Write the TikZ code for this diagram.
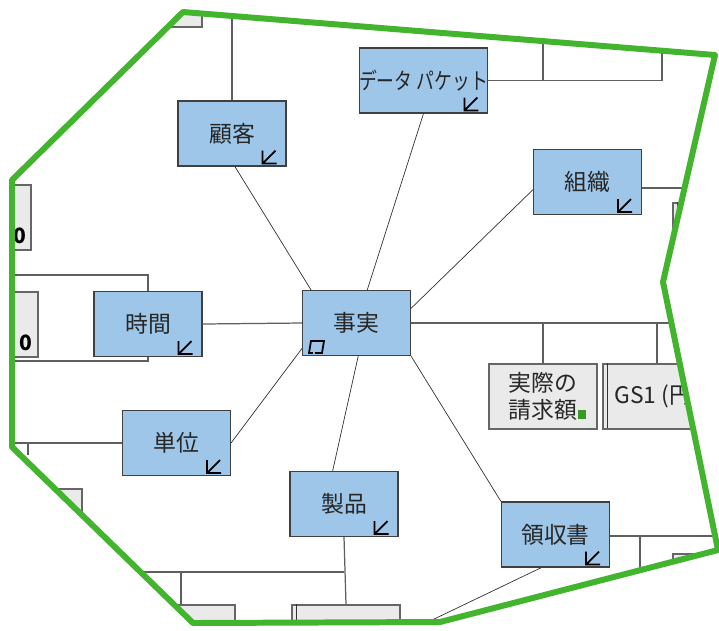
\documentclass[tikz,border=0pt]{standalone}
\usepackage{fontspec}
\setmainfont{Noto Sans CJK JP}
\newfontfamily\jpnarrow[FakeStretch=0.78]{Noto Sans CJK JP}
\definecolor{boxblue}{RGB}{157,198,232}
\definecolor{boxgrey}{RGB}{234,234,234}
\definecolor{hullgreen}{RGB}{66,180,46}
\definecolor{edgegrey}{RGB}{95,95,95}
\begin{document}
\begin{tikzpicture}[x=0.02cm, y=-0.02cm,
        entity/.style={rectangle, draw=black!75, fill=boxblue, line width=0.6pt, minimum width=2.16cm, minimum height=1.3cm, inner sep=0pt, font=\fontsize{13}{15}\selectfont, text=black!85},
        attr/.style={entity, fill=boxgrey, draw=black!60, align=center},
        spoke/.style={draw=black!80, line width=0.4pt},
        branch/.style={draw=edgegrey, line width=0.7pt},
        linkicon/.style={draw=black, line width=1pt},
        hull/.style={draw=hullgreen, line width=3.4pt, line join=round}
    ]

        \useasboundingbox (0,0) rectangle (719,630);
        \fill[white] (0,0) rectangle (719,630);

        \begin{scope}
        \clip (183,12) -- (715,55) -- (663,282) -- (718,550) -- (440,622) -- (193,623) -- (12,447) -- (12,180) -- cycle;

        % Dimensions round the fact table
        \node[entity] (cust) at (232,133.5) {顧客};
        \node[entity, font=\jpnarrow\fontsize{13}{15}\selectfont] (packet) at (423.5,80.5) {データ パケット};
        \node[entity] (org) at (587.5,182) {組織};
        \node[entity] (time) at (148,324) {時間};
        \node[entity] (fact) at (356.5,323) {事実};
        \node[entity] (unit) at (176.5,443) {単位};
        \node[entity] (prod) at (344,504) {製品};
        \node[entity] (receipt) at (555.5,534.5) {領収書};

        % Columns (cut by the hull)
        \node[attr] (billed) at (543,396.5) {実際の\\請求額};
        \node[attr] (gsone) at (657,396.5) {GS1 (円)};
        \node[attr] (colA) at (-23,217.5) {};
        \node[attr] (colB) at (-16,324.5) {};
        \node[attr] (colTop) at (148,-5.5) {};
        \node[attr] (colC) at (727,235.5) {};
        \node[attr] (colD) at (727,586.5) {};
        \node[attr] (colE) at (28,521.5) {};
        \node[attr] (colF) at (181,637.5) {};
        \node[attr] (colG) at (346,637.5) {};
        \node[font=\bfseries\fontsize{12}{14}\selectfont] (colAicon) at (20,236) {0};
        \node[font=\bfseries\fontsize{12}{14}\selectfont] (colBicon) at (26,343) {0};

        % Free ends
        \coordinate (pkTopA) at (543,0);
        \coordinate (pkTopB) at (662,0);
        \coordinate (offL1) at (-10,275);
        \coordinate (offL2) at (-10,361);
        \coordinate (offL3) at (-10,443);
        \coordinate (prodJoin) at (344,572);
        \coordinate (prodLeft) at (140,572);
        \coordinate (factRight) at (760,323);
        \coordinate (orgRight) at (760,188);
        \coordinate (rcptRight) at (760,536);
        \coordinate (rcptDrop) at (640,620);
        \coordinate (rcptLow) at (430,621);
        \coordinate (unitDrop) at (28,455);

        % Tree lines
        \draw[branch] (cust.north) -- (cust.north |- colTop.south) -- ++(0,-40);
        \draw[branch] (packet.east) -| (pkTopB);
        \draw[branch] (pkTopA) -- (pkTopA |- packet.east);
        \draw[branch] (org.east |- orgRight) -- (orgRight);
        \draw[branch] (time.north) |- (offL1);
        \draw[branch] (time.south) |- (offL2);
        \draw[branch] (unit.west) -- (offL3);
        \draw[branch] (unitDrop) -- (unitDrop |- unit.west);
        \draw[branch] (fact.east) -- (factRight);
        \draw[branch] (billed.north) -- (billed.north |- fact.east);
        \draw[branch] (gsone.north) -- (gsone.north |- fact.east);
        \draw[branch] (prod.south) -- (colG.north);
        \draw[branch] (prodLeft) -- (prodJoin);
        \draw[branch] (colF.north) -- (colF.north |- prodJoin);
        \draw[branch] (receipt.east |- rcptRight) -- (rcptRight);
        \draw[branch] (rcptDrop) -- (rcptDrop |- rcptRight);
        \draw[branch] (fact.west) -- (time.east);

        % Spokes from the fact table
        \draw[spoke] (fact.144) -- (cust.275);
        \draw[spoke] (fact.72) -- (packet.south);
        \draw[spoke] (fact.15) -- (org.188);
        \draw[spoke] (fact.205) -- (unit.east);
        \draw[spoke] (fact.273) -- (prod.109);
        \draw[spoke] (fact.south east) -- (receipt.north west);
        \draw[spoke] (receipt.247) -- (rcptLow);

        % Icons
        \foreach \n in {cust,packet,org,time,unit,prod,receipt}
            \draw[linkicon, shift={(\n.south east)}] (-24,-16) -- (-24,-3) -- (-10,-3) (-24,-3) -- (-11,-16);
        \draw[linkicon, shift={(fact.south west)}] (11,-3) -- (7,-3) -- (9,-15) -- (22,-15) -- (20,-3) -- (13,-3);
        \fill[hullgreen!85!black, shift={(billed.south east)}] (-20,-20) rectangle (-12,-11);
        \foreach \n in {gsone,colC,colG}
            \draw[black!80, line width=0.9pt, shift={(\n.north west)}] (5,0) -- (5,65);
        \end{scope}

        % Hull
        \draw[hull] (183,12) -- (715,55) -- (663,282) -- (718,550) -- (440,622) -- (193,623) -- (12,447) -- (12,180) -- cycle;

    \end{tikzpicture}
\end{document}
